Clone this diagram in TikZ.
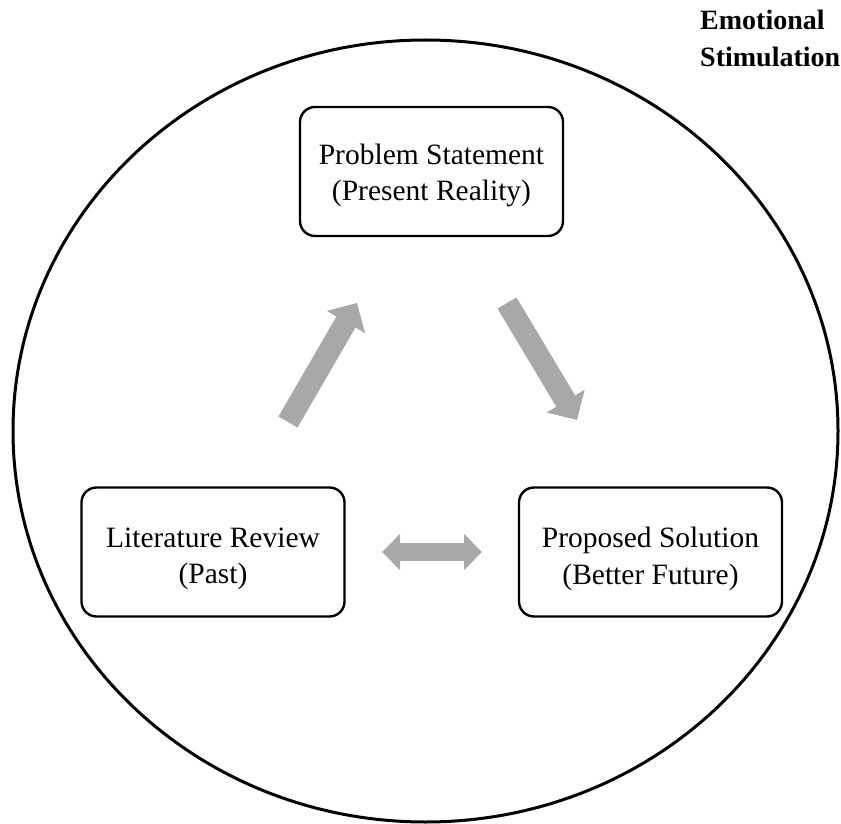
\documentclass[tikz,border=0pt]{standalone}
\usepackage{fontspec}
\setmainfont{Liberation Serif}
\usetikzlibrary{arrows.meta}
\definecolor{arrowgray}{HTML}{A8A8A8}
\tikzset{
  stagebox/.style={draw=black, line width=2.4pt, rounded corners=15pt,
    minimum width=263pt, minimum height=129pt, inner sep=0pt},
  stagetext/.style={align=center, inner sep=0pt, yshift=-4pt,
    font=\fontsize{29.5}{36.5}\selectfont},
  flowarrow/.style={draw=arrowgray, line width=22pt,
    -{Triangle[width=43pt,length=22pt]}},
  bothways/.style={draw=arrowgray, line width=18pt,
    {Triangle[width=35pt,length=18pt]}-{Triangle[width=35pt,length=18pt]}}
}
\begin{document}
\begin{tikzpicture}[x=1pt,y=-1pt]
  \useasboundingbox (0,0) rectangle (841,824);
  % surrounding ellipse
  \draw[line width=3pt] (425.5,431) ellipse [x radius=412.5, y radius=391];
  % title
  \node[anchor=north west, inner sep=0pt, align=left,
        font=\fontsize{28}{37}\selectfont\bfseries] (title) at (700,10)
        {Emotional\\Stimulation};
  % stage frames
  \node[stagebox] (problem) at (431.5,171.5) {};
  \node[stagebox] (review) at (213,552) {};
  \node[stagebox] (solution) at (650.5,552) {};
  % stage labels
  \node[stagetext] (problemtext) at (problem) {Problem Statement\\(Present Reality)};
  \node[stagetext, yshift=-3pt] (reviewtext) at (review) {Literature Review\\(Past)};
  \node[stagetext, yshift=-3pt] (solutiontext) at (solution) {Proposed Solution\\(Better Future)};
  % arrow anchor points
  \coordinate (a1s) at (288,422);
  \coordinate (a1e) at (357,303);
  \coordinate (a2s) at (507,303);
  \coordinate (a2e) at (577,420);
  \coordinate (a3s) at (382,552);
  \coordinate (a3e) at (482,552);
  \draw[flowarrow] (a1s) -- (a1e);
  \draw[flowarrow] (a2s) -- (a2e);
  \draw[bothways] (a3s) -- (a3e);
\end{tikzpicture}
\end{document}
